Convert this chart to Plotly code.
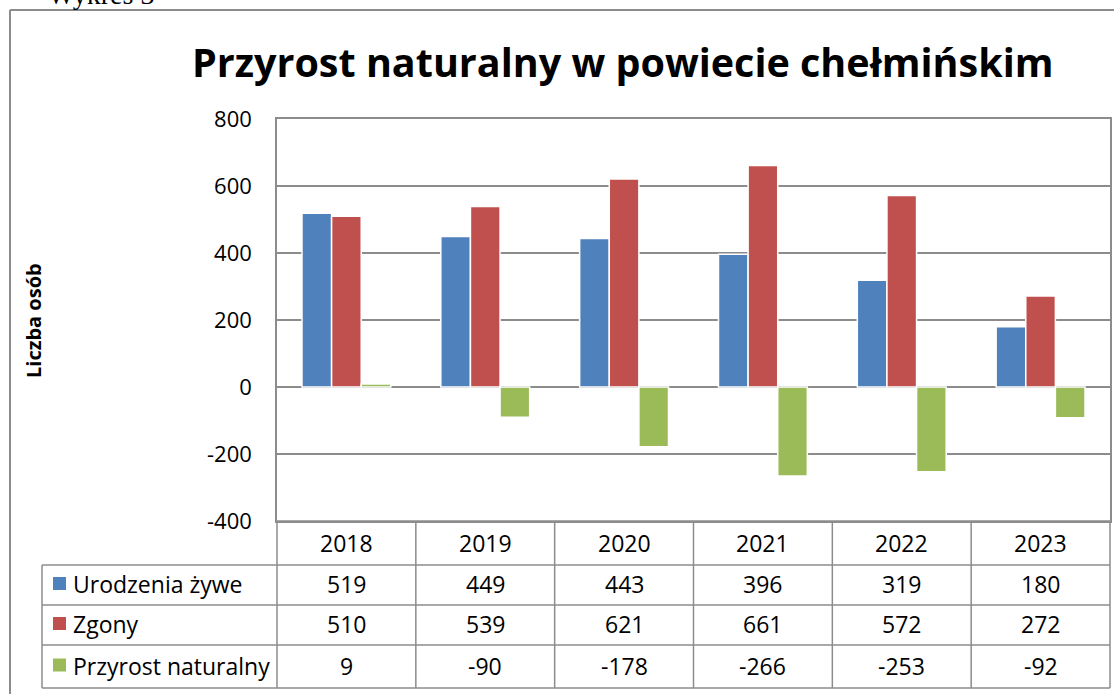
import plotly.graph_objects as go

W, H = 1114, 694

years = ["2018", "2019", "2020", "2021", "2022", "2023"]
series_names = ["Urodzenia żywe", "Zgony", "Przyrost naturalny"]
urodzenia = [519, 449, 443, 396, 319, 180]
zgony = [510, 539, 621, 661, 572, 272]
przyrost = [9, -90, -178, -266, -253, -92]
colors = ["#4F81BD", "#C0504D", "#9BBB59"]
y_ticks = [-400, -200, 0, 200, 400, 600, 800]

FONT = "Open Sans"
GRID = "#8c8c8c"


def px(x):
    return x / W


def py(y):
    return 1 - y / H


# plot area in pixels
X0, X1 = 277, 1110
Y_TOP, Y_BOT = 119, 521
row_lines = [521, 565, 605, 645, 688]

fig = go.Figure()
for name, vals, col in zip(series_names, [urodzenia, zgony, przyrost], colors):
    fig.add_trace(go.Bar(
        x=years, y=vals, name=name,
        marker=dict(color=col, line=dict(color="white", width=1.5)),
        showlegend=False,
    ))

fig.update_layout(
    width=W, height=H,
    margin=dict(l=0, r=0, t=0, b=0, autoexpand=False),
    paper_bgcolor="white", plot_bgcolor="white",
    barmode="group", bargap=0.36, bargroupgap=0.0,
    font=dict(family=FONT, color="black"),
    xaxis=dict(domain=[px(X0), px(X1)], range=[-0.5, 5.5], automargin=False,
               showticklabels=False, showgrid=False,
               showline=True, linecolor=GRID, linewidth=1.5, mirror=True),
    yaxis=dict(domain=[py(Y_BOT), py(Y_TOP)], range=[-400, 800], automargin=False,
               tickvals=y_ticks, ticktext=[str(v) for v in y_ticks],
               tickfont=dict(size=22, family=FONT), ticks="outside",
               ticklen=0, ticklabelstandoff=19,
               showgrid=True, gridcolor=GRID, gridwidth=1.5,
               zeroline=True, zerolinecolor=GRID, zerolinewidth=1.5,
               showline=True, linecolor=GRID, linewidth=1.5, mirror=True),
)

shapes = []
# outer frame
shapes.append(dict(type="line", xref="paper", yref="paper",
                   x0=px(10), x1=px(10), y0=py(10), y1=py(H + 5),
                   line=dict(color="#8c8c8c", width=2)))
shapes.append(dict(type="line", xref="paper", yref="paper",
                   x0=px(10), x1=px(W + 5), y0=py(10), y1=py(10),
                   line=dict(color="#8c8c8c", width=2)))

# table horizontal lines
for i, yy in enumerate(row_lines):
    x_start = X0 if i == 0 else 42
    shapes.append(dict(type="line", xref="paper", yref="paper",
                       x0=px(x_start), x1=px(X1), y0=py(yy), y1=py(yy),
                       line=dict(color=GRID, width=1.5)))
# table vertical lines
col_w = (X1 - X0) / len(years)
for i in range(len(years) + 1):
    xx = X0 + i * col_w
    shapes.append(dict(type="line", xref="paper", yref="paper",
                       x0=px(xx), x1=px(xx), y0=py(row_lines[0]), y1=py(row_lines[-1]),
                       line=dict(color=GRID, width=1.5)))
shapes.append(dict(type="line", xref="paper", yref="paper",
                   x0=px(42), x1=px(42), y0=py(row_lines[1]), y1=py(row_lines[-1]),
                   line=dict(color=GRID, width=1.5)))

annotations = []


def label(x, y, text, size, anchor="center", **kw):
    annotations.append(dict(x=px(x), y=py(y), xref="paper", yref="paper",
                            text=text, showarrow=False, xanchor=anchor,
                            yanchor=kw.pop("yanchor", "middle"),
                            font=dict(size=size, family=kw.pop("family", FONT)), **kw))


# year headers
for i, yr in enumerate(years):
    label(X0 + (i + 0.5) * col_w, (row_lines[0] + row_lines[1]) / 2, yr, 23)
# data rows
for r, (name, vals, col) in enumerate(zip(series_names, [urodzenia, zgony, przyrost], colors)):
    cy = (row_lines[r + 1] + row_lines[r + 2]) / 2
    shapes.append(dict(type="rect", xref="paper", yref="paper",
                       x0=px(53), x1=px(66), y0=py(cy + 5), y1=py(cy - 8),
                       fillcolor=col, line=dict(width=0)))
    label(71, cy - 1, name, 23, anchor="left")
    for i, v in enumerate(vals):
        label(X0 + (i + 0.5) * col_w, cy - 1, str(v), 23)

# title
label(623, 62, "<b>Przyrost naturalny w powiecie chełmińskim</b>", 39.5)
# y axis title
label(33, 321, "<b>Liczba osób</b>", 20, textangle=-90)
# caption above the frame, cut off by the page edge as in the source
label(46, 12, "Wykres 3", 28, anchor="left", yanchor="bottom", family="Liberation Serif")

fig.update_layout(shapes=shapes, annotations=annotations)

fig.write_html("out.html", config={"displayModeBar": False},
               post_script="document.body.style.margin='0';")
